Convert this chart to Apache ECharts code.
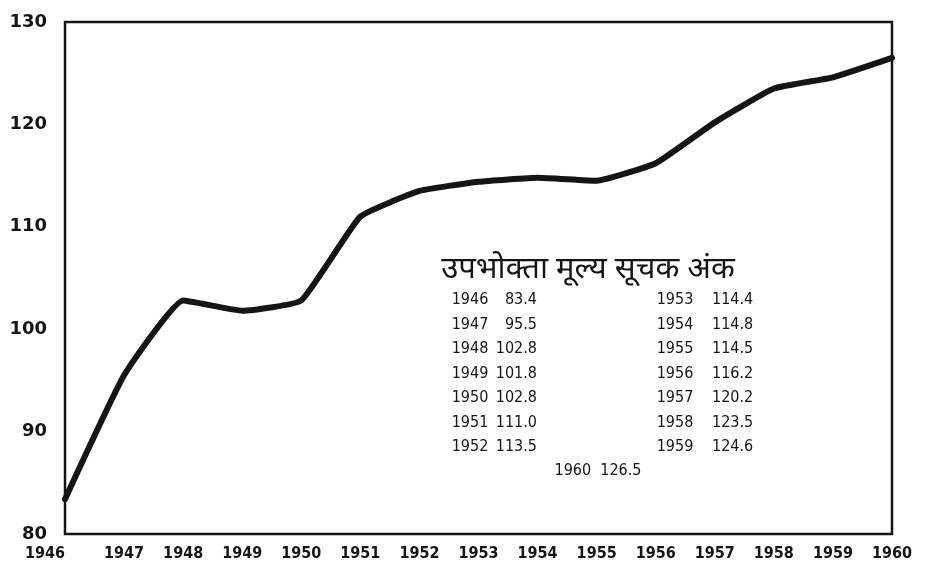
<!DOCTYPE html>
<html>
<head>
<meta charset="utf-8">
<script src="https://cdn.jsdelivr.net/npm/echarts@6/dist/echarts.min.js"></script>
<style>
html, body { margin: 0; padding: 0; background: #fff; }
#chart { width: 925px; height: 578px; }
</style>
</head>
<body>
<div id="chart"></div>
<script>
const years = ['1946', '1947', '1948', '1949', '1950', '1951', '1952', '1953', '1954', '1955', '1956', '1957', '1958', '1959', '1960']
const priceIndex = [83.4, 95.5, 102.8, 101.8, 102.8, 111.0, 113.5, 114.4, 114.8, 114.5, 116.2, 120.2, 123.5, 124.6, 126.5]
const yMin = 80
const yMax = 130
const yStep = 10
const tableTitle = 'उपभोक्ता मूल्य सूचक अंक'

const ink = '#151515'
const numFont = '"Liberation Sans Narrow", "DejaVu Sans Condensed", sans-serif'

// little table drawn inside the plot: two columns of 7 rows, last year centred below
function buildTable () {
  const items = []
  items.push({
    type: 'text',
    x: 588,
    y: 272,
    style: {
      text: tableTitle,
      fontSize: 31,
      fontFamily: '"Noto Sans Devanagari", "Lohit Devanagari", "Noto Sans", sans-serif',
      fill: ink,
      align: 'center',
      verticalAlign: 'middle'
    }
  })
  const rowY = 300
  const rowGap = 24.5
  const txt = { fontSize: 16, fontFamily: numFont, fill: ink, verticalAlign: 'middle' }
  for (let i = 0; i < 14; i++) {
    const col = i < 7 ? 0 : 1
    const row = i % 7
    const y = rowY + row * rowGap
    items.push({
      type: 'text',
      x: col === 0 ? 470 : 675,
      y: y,
      style: Object.assign({ text: years[i], align: 'center' }, txt)
    })
    items.push({
      type: 'text',
      x: col === 0 ? 537 : 712,
      y: y,
      style: Object.assign({ text: priceIndex[i].toFixed(1), align: col === 0 ? 'right' : 'left' }, txt)
    })
  }
  items.push({
    type: 'text',
    x: 598,
    y: rowY + 7 * rowGap - 1,
    style: Object.assign({ text: years[14] + '  ' + priceIndex[14].toFixed(1), align: 'center' }, txt)
  })
  return items
}

const chart = echarts.init(document.getElementById('chart'))
const option = {
  animation: false,
  backgroundColor: '#fff',
  grid: {
    left: 65,
    right: 33,
    top: 22,
    bottom: 44,
    show: true,
    borderColor: ink,
    borderWidth: 2.5,
    containLabel: false
  },
  xAxis: {
    type: 'category',
    boundaryGap: false,
    data: years,
    axisLine: { show: false },
    axisTick: { show: false },
    splitLine: { show: false },
    axisLabel: {
      interval: 0,
      margin: 12,
      fontSize: 16,
      fontWeight: 'bold',
      fontFamily: numFont,
      color: ink,
      alignMinLabel: 'right'
    }
  },
  yAxis: {
    type: 'value',
    min: yMin,
    max: yMax,
    interval: yStep,
    axisLine: { show: false },
    axisTick: { show: false },
    splitLine: { show: false },
    axisLabel: {
      margin: 18,
      fontSize: 18,
      fontWeight: 'bold',
      fontFamily: '"DejaVu Sans", sans-serif',
      color: ink
    }
  },
  series: [
    {
      name: 'CPI',
      type: 'line',
      data: priceIndex,
      smooth: 0.12,
      symbol: 'none',
      lineStyle: { color: ink, width: 6, join: 'round', cap: 'round' }
    }
  ],
  graphic: buildTable()
}
chart.setOption(option)
</script>
</body>
</html>
